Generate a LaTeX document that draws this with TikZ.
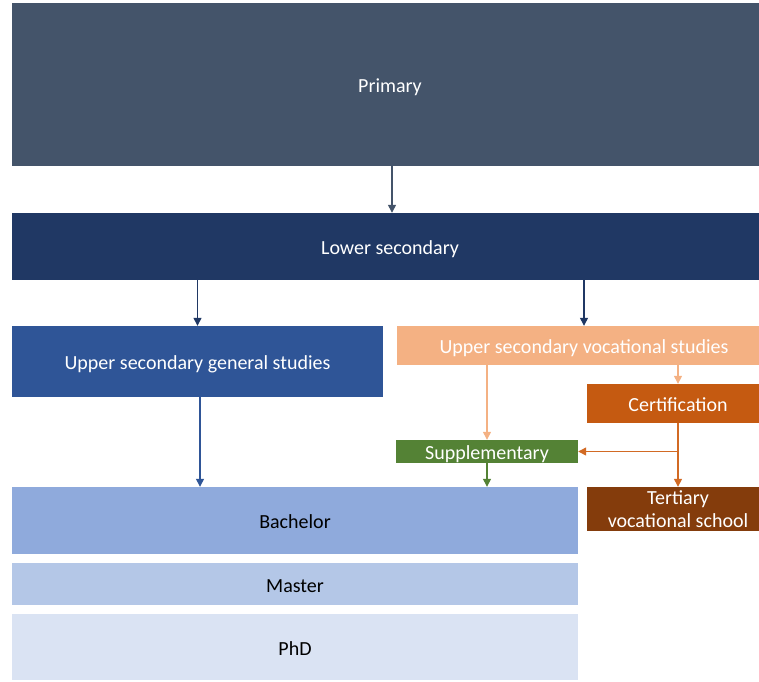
\documentclass[tikz,border=0pt]{standalone}
\usepackage{fontspec}
\setmainfont{Carlito}
\usepackage{xcolor}
\usepackage{tikz}
\usetikzlibrary{positioning,arrows.meta,calc}
\definecolor{slate}{HTML}{44546A}
\definecolor{navy}{HTML}{203864}
\definecolor{midblue}{HTML}{2F5597}
\definecolor{peach}{HTML}{F4B183}
\definecolor{rust}{HTML}{C55A11}
\definecolor{rustline}{HTML}{D26A24}
\definecolor{leaf}{HTML}{548235}
\definecolor{brown}{HTML}{843C0C}
\definecolor{sky}{HTML}{8FAADC}
\definecolor{pale}{HTML}{B4C7E7}
\definecolor{paler}{HTML}{DAE3F3}

\begin{document}
\begin{tikzpicture}[
  x=1pt, y=-1pt,
  font=\fontsize{20}{23}\selectfont,
  box/.style={align=center, inner sep=0pt, text=white},
  oneline/.style={text height=18pt, text depth=2pt},
  arr/.style={-{Triangle[length=8pt, width=8pt]}, line width=1.3pt}]
\useasboundingbox (0,0) rectangle (759,681);
\node[box, oneline, fill=slate, minimum width=756pt, minimum height=163pt] (prim) at (390,84.5) {Primary};
\node[box, oneline, fill=navy, minimum width=756pt, minimum height=67pt] (lower) at (390,246.5) {Lower secondary};
\node[box, oneline, fill=midblue, minimum width=371pt, minimum height=71pt] (gen) at (197.5,361.5) {Upper secondary general studies};
\node[box, oneline, fill=peach, minimum width=374pt, minimum height=39pt] (voc) at (584,345.5) {Upper secondary vocational studies};
\node[box, oneline, fill=rust, minimum width=182pt, minimum height=39pt] (cert) at (678,403.5) {Certification};
\node[box, oneline, fill=leaf, minimum width=182pt, minimum height=23pt] (supp) at (487,451.5) {Supplementary};
\node[box, fill=brown, minimum width=182pt, minimum height=44pt] (tert) at (678,509) {Tertiary\\vocational school};
\node[box, oneline, fill=sky, text=black, minimum width=566pt, minimum height=67pt] (bach) at (295,520.5) {Bachelor};
\node[box, oneline, fill=pale, text=black, minimum width=566pt, minimum height=42pt] (mast) at (295,584) {Master};
\node[box, oneline, fill=paler, text=black, minimum width=566pt, minimum height=66pt] (phd) at (295,647) {PhD};
\draw[arr, slate] (prim.south) ++(2,0) -- (lower.north -| 392,0);
\draw[arr, navy] (lower.south -| gen.north) -- (gen.north);
\draw[arr, navy] (lower.south -| voc.north) -- (voc.north);
\draw[arr, midblue] (gen.south) ++(2.5,0) -- (bach.north -| 200,0);
\draw[arr, peach] (voc.south -| supp.north) -- (supp.north);
\draw[arr, peach] (voc.south -| cert.north) -- (cert.north);
\draw[arr, rustline] (cert.south) -- (tert.north);
\draw[arr, rustline] (cert.south |- supp.east) -- (supp.east);
\draw[arr, leaf] (supp.south) -- (bach.north -| supp.south);
\end{tikzpicture}
\end{document}
